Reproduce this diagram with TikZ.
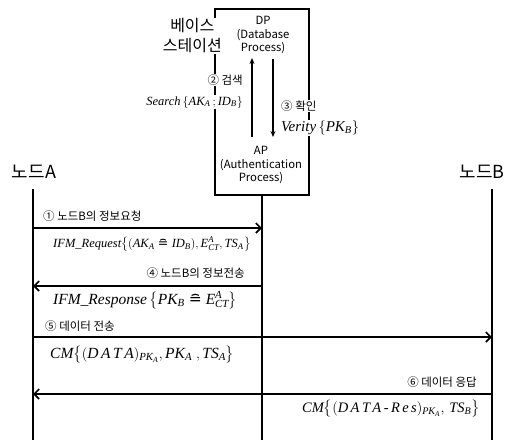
\documentclass[tikz,border=0pt]{standalone}
\usepackage{amsmath}
\usepackage{fontspec}
\setmainfont{Liberation Serif}
\newfontfamily\kr{Noto Sans CJK KR}
\newfontfamily\djv{DejaVu Sans}
\usetikzlibrary{arrows.meta}
\newcommand{\mi}[1]{\textit{#1}}
\newcommand{\crq}{\mathrel{\text{\djv\upshape ≘}}}
\tikzset{
  lifeline/.style={line width=2.6pt},
  msg/.style={line width=2pt,-{Straight Barb[length=5pt,width=10pt,line width=1.6pt]}},
  inarrow/.style={line width=1.7pt,-{Stealth[length=6pt,width=5pt]}},
  krsmall/.style={font=\kr\fontsize{11.5}{12}\selectfont,inner sep=0pt},
  krbig/.style={font=\kr\fontsize{18}{20}\selectfont,inner sep=0pt},
  krbs/.style={font=\kr\fontsize{16}{20}\selectfont,inner sep=1pt,fill=white,align=center},
  proc/.style={font=\kr\fontsize{11.3}{13.5}\selectfont,inner sep=0pt,align=center},
  frm/.style={inner sep=0pt},
  boxst/.style={draw,line width=2pt,inner sep=0pt,minimum width=94pt,minimum height=186pt}
}
\begin{document}
\begin{tikzpicture}[x=1pt,y=-1pt]
\useasboundingbox[fill=white] (0,0) rectangle (515,440);
% base station box
\node[boxst] (bs) at (262,102) {};
% labels breaking the box edges
\node[krbs,anchor=east] (bslabel) at (223,36) {베이스\\스테이션};
\node[krsmall,fill=white,inner sep=1pt,anchor=east] (l2) at (244,80) {② 검색};
\node[frm,fill=white,inner sep=1pt,anchor=east,font=\fontsize{12.5}{14}\selectfont] (f2) at (244,102)
  {$\mi{Search}\,\{\mi{AK}_{\mi{A}}\,;\mi{ID}_{\mi{B}}\}$};
\node[krsmall,fill=white,inner sep=1pt,anchor=west] (l3) at (280,106) {③ 확인};
\node[frm,fill=white,inner sep=1pt,anchor=west,font=\fontsize{15}{16}\selectfont] (f3) at (280,128)
  {$\mi{Verity}\,\{\mi{PK}_{\mi{B}}\}$};
% processes
\node[proc] (dp) at (263,35) {DP\\(Database\\Process)};
\node[proc] (ap) at (261,165) {AP\\(Authentication\\Process)};
\coordinate (apupS) at (252,137);
\coordinate (apupE) at (252,58);
\coordinate (dpdnS) at (273,59);
\coordinate (dpdnE) at (273,137);
\draw[inarrow] (apupS) -- (apupE);
\draw[inarrow] (dpdnS) -- (dpdnE);
% node labels
\node[krbig] (na) at (34,172) {노드A};
\node[krbig] (nb) at (482,172) {노드B};
% lifelines
\coordinate (Atop) at (33,189);
\coordinate (Abot) at (33,440);
\coordinate (Ptop) at (bs.south);
\coordinate (Pbot) at (262,440);
\coordinate (Btop) at (492,189);
\coordinate (Bbot) at (492,440);
\draw[lifeline] (Atop) -- (Abot);
\draw[lifeline] (Ptop) -- (Pbot);
\draw[lifeline] (Btop) -- (Bbot);
% messages
\coordinate (a1) at (33,228); \coordinate (p1) at (262,228);
\coordinate (a4) at (33,286); \coordinate (p4) at (262,286);
\coordinate (a5) at (33,337); \coordinate (b5) at (492,337);
\coordinate (a6) at (33,394); \coordinate (b6) at (492,394);
\draw[msg] (a1) -- (p1);
\draw[msg] (p4) -- (a4);
\draw[msg] (a5) -- (b5);
\draw[msg] (b6) -- (a6);
% message labels
\node[krsmall,anchor=west] (m1) at (43,216) {① 노드B의 정보요청};
\node[frm,anchor=west,font=\fontsize{12.5}{14}\selectfont] (g1) at (53,244)
  {$\mi{IFM\_Request}\bigl\{(\mi{AK}_{\mi{A}}\crq\mi{ID}_{\mi{B}}),\mi{E}^{\mi{A}}_{\mi{CT}},\mi{TS}_{\mi{A}}\bigr\}$};
\node[krsmall,anchor=east] (m4) at (245,273) {④ 노드B의 정보전송};
\node[frm,anchor=west,font=\fontsize{15.5}{16}\selectfont] (g4) at (53,300)
  {$\mi{IFM\_Response}\,\bigl\{\mi{PK}_{\mi{B}}\crq\mi{E}^{\mi{A}}_{\mi{CT}}\bigr\}$};
\node[krsmall,anchor=west] (m5) at (45,326) {⑤ 데이터 전송};
\node[frm,anchor=west,font=\fontsize{15.5}{16}\selectfont] (g5) at (50,355)
  {$\mi{CM}\bigl\{(\mi{D\,A\,T\,A})_{\mi{PK}_{\mi{A}}},\mi{PK}_{\mi{A}}\;,\mi{TS}_{\mi{A}}\bigr\}$};
\node[krsmall,anchor=east] (m6) at (477,382) {⑥ 데이터 응답};
\node[frm,anchor=east,font=\fontsize{14.5}{15}\selectfont] (g6) at (480,409)
  {$\mi{CM}\bigl\{(\mi{D\,A\,T\,A\,-\,R\,e\,s})_{\mi{PK}_{\mi{A}}},\,\mi{TS}_{\mi{B}}\bigr\}$};
\end{tikzpicture}
\end{document}
